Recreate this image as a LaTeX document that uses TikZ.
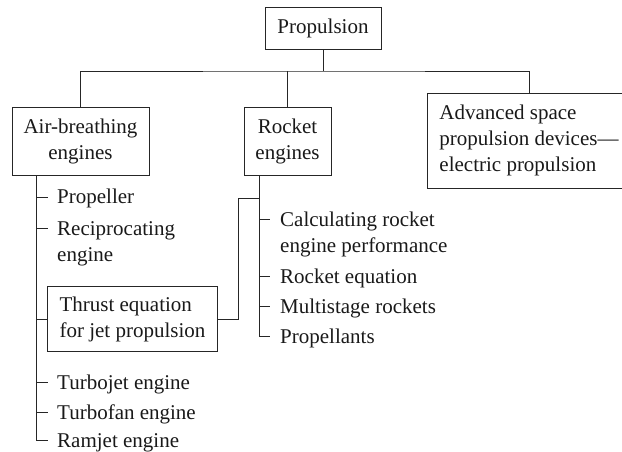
\documentclass[tikz,border=0pt]{standalone}
\usepackage{fontspec}
\setmainfont{Liberation Serif}
\begin{document}
\begin{tikzpicture}[x=1pt,y=-1pt,
  every node/.style={font=\fontsize{21}{26}\selectfont, text=black!90},
  box/.style={draw=black!85, line width=0.9pt, inner sep=0pt, align=center},
  item/.style={anchor=base west, inner sep=0pt, align=left},
  conn/.style={draw=black!85, line width=0.9pt}]
\useasboundingbox (0,0) rectangle (622,452);
% boxes
\node[box, minimum width=116, minimum height=42] (prop) at (323,28) {Propulsion};
\node[box, minimum width=137, minimum height=68] (air) at (80.5,141) {Air-breathing\\engines};
\node[box, minimum width=87, minimum height=68] (rocket) at (287.5,141) {Rocket\\engines};
\node[box, minimum width=191, minimum height=95, align=left, anchor=west, inner xsep=12pt] (adv) at (427,140.5) {Advanced space\\propulsion devices---\\electric propulsion};
\node[box, minimum width=170, minimum height=65, align=left, anchor=west, inner xsep=10pt] (thrust) at (47,319) {Thrust equation\\for jet propulsion};
% tree connectors
\coordinate (bus) at (323,71);
\coordinate (advtop) at (529,93);
\draw[conn] (prop.south) -- (prop.south |- bus);
\draw[conn] (air.north) |- (bus) -| (advtop);
\draw[conn] (rocket.north) -- (rocket.north |- bus);
% air-breathing list
\coordinate (a0) at (36,175);
\coordinate (a9) at (36,440);
\node[item] (i1) at (57,204) {Propeller};
\node[item] (i2) at (57,261) {Reciprocating\\engine};
\node[item] (i3) at (57,389) {Turbojet engine};
\node[item] (i4) at (57,419) {Turbofan engine};
\node[item] (i5) at (57,447) {Ramjet engine};
\draw[conn] (a0) -- (a9) -- (48,440);
\draw[conn] (36,197) -- (48,197);
\draw[conn] (36,228) -- (48,228);
\draw[conn] (36,382) -- (48,382);
\draw[conn] (36,412) -- (48,412);
\draw[conn] (36,319) -- (thrust.west);
% rocket list
\coordinate (r0) at (259,175);
\coordinate (r9) at (259,336);
\coordinate (s1) at (238,198);
\node[item] (j1) at (280,252) {Calculating rocket\\engine performance};
\node[item] (j2) at (280,283) {Rocket equation};
\node[item] (j3) at (280,313) {Multistage rockets};
\node[item] (j4) at (280,343) {Propellants};
\draw[conn] (r0) -- (r9) -- (270,336);
\draw[conn] (259,219) -- (270,219);
\draw[conn] (259,276) -- (270,276);
\draw[conn] (259,306) -- (270,306);
\draw[conn] (thrust.east) -| (s1) -- (259,198);
\end{tikzpicture}
\end{document}
